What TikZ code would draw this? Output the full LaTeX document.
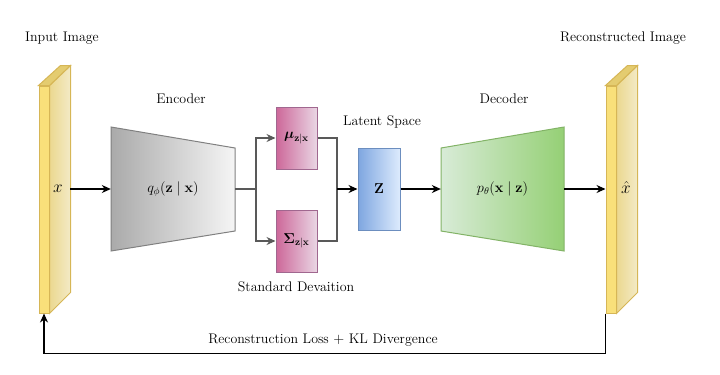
\documentclass[tikz,border=0pt]{standalone}
\usepackage{amsmath, amssymb, bm}
\usepackage{tikz}
\usetikzlibrary{arrows.meta, positioning}

\definecolor{slabfront}{HTML}{F9E07A}
\definecolor{slabtop}{HTML}{E4CC70}
\definecolor{slabsideL}{HTML}{EBD88F}
\definecolor{slabsideR}{HTML}{F3EAC6}
\definecolor{slabline}{HTML}{D6B656}
\definecolor{encleft}{HTML}{AAAAAA}
\definecolor{encright}{HTML}{F5F5F5}
\definecolor{encline}{HTML}{808080}
\definecolor{parleft}{HTML}{CD6799}
\definecolor{parright}{HTML}{E9D6E4}
\definecolor{parline}{HTML}{A0678F}
\definecolor{zleft}{HTML}{7EA6E0}
\definecolor{zright}{HTML}{DDEBFD}
\definecolor{zline}{HTML}{6C8EBF}
\definecolor{decleft}{HTML}{D8EBD7}
\definecolor{decright}{HTML}{95D075}
\definecolor{decline}{HTML}{82B366}

\begin{document}
\begin{tikzpicture}[
    x=1bp, y=-1bp,
    every node/.style={font=\fontsize{14}{16}\selectfont},
    slab_face/.style={draw=slabline, fill=slabfront, line width=1bp, minimum width=10bp, minimum height=227bp, inner sep=0pt},
    slab_side/.style={draw=slabline, left color=slabsideL, right color=slabsideR, line width=1bp},
    slab_top/.style={draw=slabline, fill=slabtop, line width=1bp},
    big_math/.style={font=\fontsize{18}{20}\selectfont},
    param_box/.style={draw=parline, left color=parleft, right color=parright, line width=1bp, minimum width=41bp, minimum height=62bp, inner sep=0pt},
    edge/.style={-{Stealth[length=9bp,width=8bp]}, line width=1.2bp, color=black},
    branch/.style={line width=1.2bp, color=gray!70!black}
]
\useasboundingbox (0,0) rectangle (720,374);

% Imagen de entrada
\node[slab_face] (inp) at (44,199.5) {};
\shadedraw[slab_side] (inp.north east) -- ++(21,-20) -- ++(0,227) -- (inp.south east) -- cycle;
\filldraw[slab_top] (inp.north west) -- (inp.north east) -- ++(21,-20) -- ++(-10,0) -- cycle;
\node[big_math] (xin) at (58,189) {$x$};
\coordinate (inpR) at (70,189);

% Encoder
\shadedraw[draw=encline, left color=encleft, right color=encright, line width=1bp] (111,127) -- (235,148) -- (235,231) -- (111,251) -- cycle;
\node[minimum width=124bp, minimum height=124bp, inner sep=0pt] (enc) at (173,189) {$q_{\phi}(\mathbf{z}\mid\mathbf{x})$};

% Media y desviacion
\node[param_box] (mu) at (296.5,138) {$\boldsymbol{\mu}_{\mathbf{z}|\mathbf{x}}$};
\node[param_box] (sig) at (296.5,241) {$\boldsymbol{\Sigma}_{\mathbf{z}|\mathbf{x}}$};
\coordinate (split) at (256,189);
\coordinate (join) at (337,189);

% Espacio latente
\node[draw=zline, left color=zleft, right color=zright, line width=1bp, minimum width=42bp, minimum height=82bp, inner sep=0pt] (z) at (379,189) {$\mathbf{Z}$};

% Decoder
\shadedraw[draw=decline, left color=decleft, right color=decright, line width=1bp] (441,148) -- (564,127) -- (564,251) -- (441,231) -- cycle;
\node[minimum width=123bp, minimum height=124bp, inner sep=0pt] (dec) at (502.5,189) {$p_{\theta}(\mathbf{x}\mid\mathbf{z})$};

% Imagen reconstruida
\node[slab_face] (out) at (611,199.5) {};
\shadedraw[slab_side] (out.north east) -- ++(21,-20) -- ++(0,227) -- (out.south east) -- cycle;
\filldraw[slab_top] (out.north west) -- (out.north east) -- ++(21,-20) -- ++(-10,0) -- cycle;
\node[big_math] (xout) at (626,188) {$\hat{x}$};

% Titulos
\node (inptitle) at (62,38) {Input Image};
\node (enctitle) at (181,99) {Encoder};
\node (lattitle) at (382,122) {Latent Space};
\node (stdtitle) at (296,287) {Standard Devaition};
\node (dectitle) at (504,99) {Decoder};
\node (outtitle) at (623,38) {Reconstructed Image};

% Flechas
\draw[edge] (inpR) -- (enc.west);
\draw[branch] (enc.east) -- (split);
\draw[edge, color=gray!70!black] (split) |- (mu.west);
\draw[edge, color=gray!70!black] (split) |- (sig.west);
\draw[branch] (mu.east) -| (join);
\draw[branch] (sig.east) -| (join);
\draw[edge] (join) -- (z.west);
\draw[edge] (z.east) -- (dec.west);
\draw[edge] (dec.east) -- (dec.east -| out.west);

% Perdida
\draw[edge] (out.south west) -- ++(0,40) -| (inp.south);
\node (losstitle) at (323,340) {Reconstruction Loss $+$ KL Divergence};

\end{tikzpicture}
\end{document}
